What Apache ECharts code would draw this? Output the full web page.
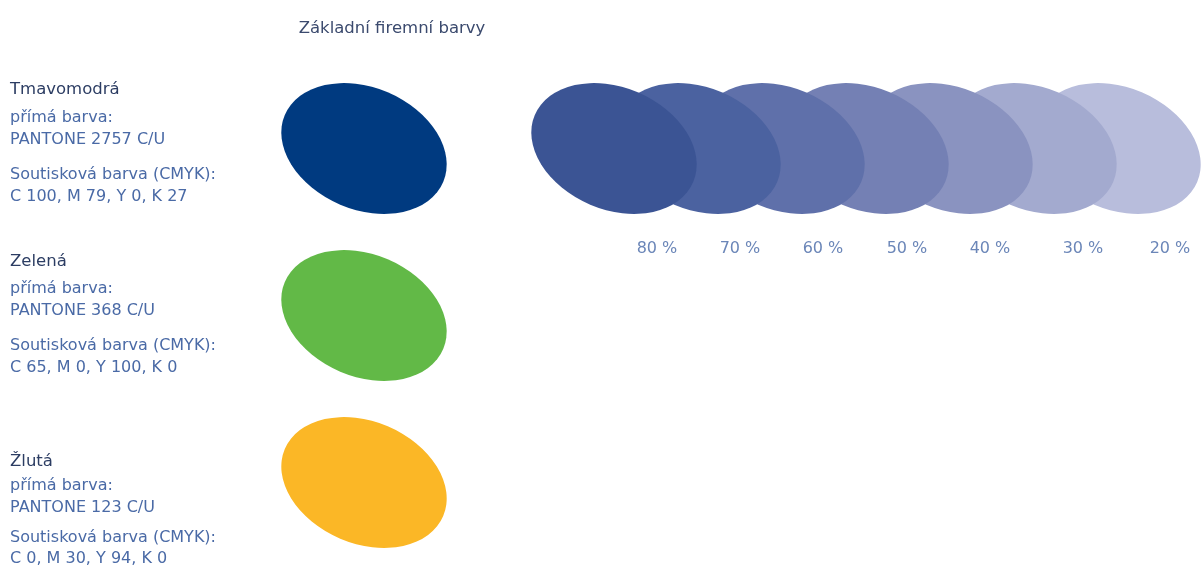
<!DOCTYPE html>
<html><head><meta charset="utf-8">
<script src="https://cdn.jsdelivr.net/npm/echarts@6/dist/echarts.min.js"></script>
<style>html,body{margin:0;padding:0;background:#fff}#c{width:1201px;height:567px}</style>
</head><body><div id="c"></div>
<script>
var title = 'Základní firemní barvy';
var colorNames = ['Tmavomodrá', 'Zelená', 'Žlutá'];
var pantone = ['PANTONE 2757 C/U', 'PANTONE 368 C/U', 'PANTONE 123 C/U'];
var cmyk = ['C 100, M 79, Y 0, K 27', 'C 65, M 0, Y 100, K 0', 'C 0, M 30, Y 94, K 0'];
var baseColors = ['#003a80', '#62b947', '#fbb726'];
var tintLabels = ['80 %', '70 %', '60 %', '50 %', '40 %', '30 %', '20 %'];
var tintValues = [80, 70, 60, 50, 40, 30, 20];
var tintColors = ['#3b5494', '#4b62a0', '#5f70aa', '#7480b4', '#8a93c0', '#a3aacf', '#b8bddc'];

// layout (pixels) for the text blocks
var textTops = [90, 262, 462];
var lineOffsets = [[0, 28, 50, 85, 107], [0, 27, 49, 84, 106], [0, 24, 46, 76, 97]];
var labelShift = [43, 42, 41, 41, 40, 49, 52];

var FONT = '"DejaVu Sans", "Open Sans", sans-serif';
var RX = 86, RY = 61, ROT = -0.4;

function ellipse(cx, cy, fill, z2) {
  return {
    type: 'circle', x: cx, y: cy, rotation: ROT,
    scaleX: RX / RY, scaleY: 1, z2: z2,
    shape: { cx: 0, cy: 0, r: RY },
    style: { fill: fill }
  };
}

var chart = echarts.init(document.getElementById('c'), null, { renderer: 'canvas' });
chart.setOption({
  animation: false,
  title: {
    text: title, left: 387, top: 15, textAlign: 'center',
    textStyle: { fontFamily: FONT, fontSize: 16.5, fontWeight: 'normal', color: '#3b4a6e' }
  },
  grid: [
    { left: 281, width: 166, top: 65, height: 501 },
    { left: 572, width: 588, top: 83, height: 131 }
  ],
  xAxis: [
    { gridIndex: 0, type: 'category', data: ['base'], show: false },
    { gridIndex: 1, type: 'category', data: tintLabels, show: false }
  ],
  yAxis: [
    { gridIndex: 0, type: 'category', data: colorNames, inverse: true, show: false },
    { gridIndex: 1, type: 'category', data: ['tint'], show: false }
  ],
  series: [
    {
      type: 'custom', xAxisIndex: 0, yAxisIndex: 0,
      data: colorNames.map(function (n, i) { return [0, i]; }),
      renderItem: function (params, api) {
        var i = params.dataIndex;
        var p = api.coord([api.value(0), api.value(1)]);
        var tx = 10, ty = textTops[i], off = lineOffsets[i];
        var body = { fontFamily: FONT, fontSize: 16, fill: '#4a6aa6' };
        function t(str, dy, style) {
          return { type: 'text', x: tx, y: ty + dy, style: Object.assign({ text: str, textVerticalAlign: 'middle' }, style) };
        }
        return {
          type: 'group',
          children: [
            ellipse(p[0], p[1], baseColors[i], 1),
            t(colorNames[i], off[0], { fontFamily: FONT, fontSize: 16.5, fill: '#2c3d63' }),
            t('přímá barva:', off[1], body),
            t(pantone[i], off[2], body),
            t('Soutisková barva (CMYK):', off[3], body),
            t(cmyk[i], off[4], body)
          ]
        };
      }
    },
    {
      type: 'custom', xAxisIndex: 1, yAxisIndex: 1,
      data: tintValues.map(function (v, i) { return [i, 0, v]; }),
      renderItem: function (params, api) {
        var i = params.dataIndex;
        var p = api.coord([api.value(0), api.value(1)]);
        return {
          type: 'group',
          children: [
            ellipse(p[0], p[1], tintColors[i], 20 - i),
            {
              type: 'text', x: p[0] + labelShift[i], y: 249,
              style: { text: tintLabels[i], fontFamily: FONT, fontSize: 16, fill: '#6b86b8', textAlign: 'center', textVerticalAlign: 'middle' }
            }
          ]
        };
      }
    }
  ]
});
</script></body></html>
